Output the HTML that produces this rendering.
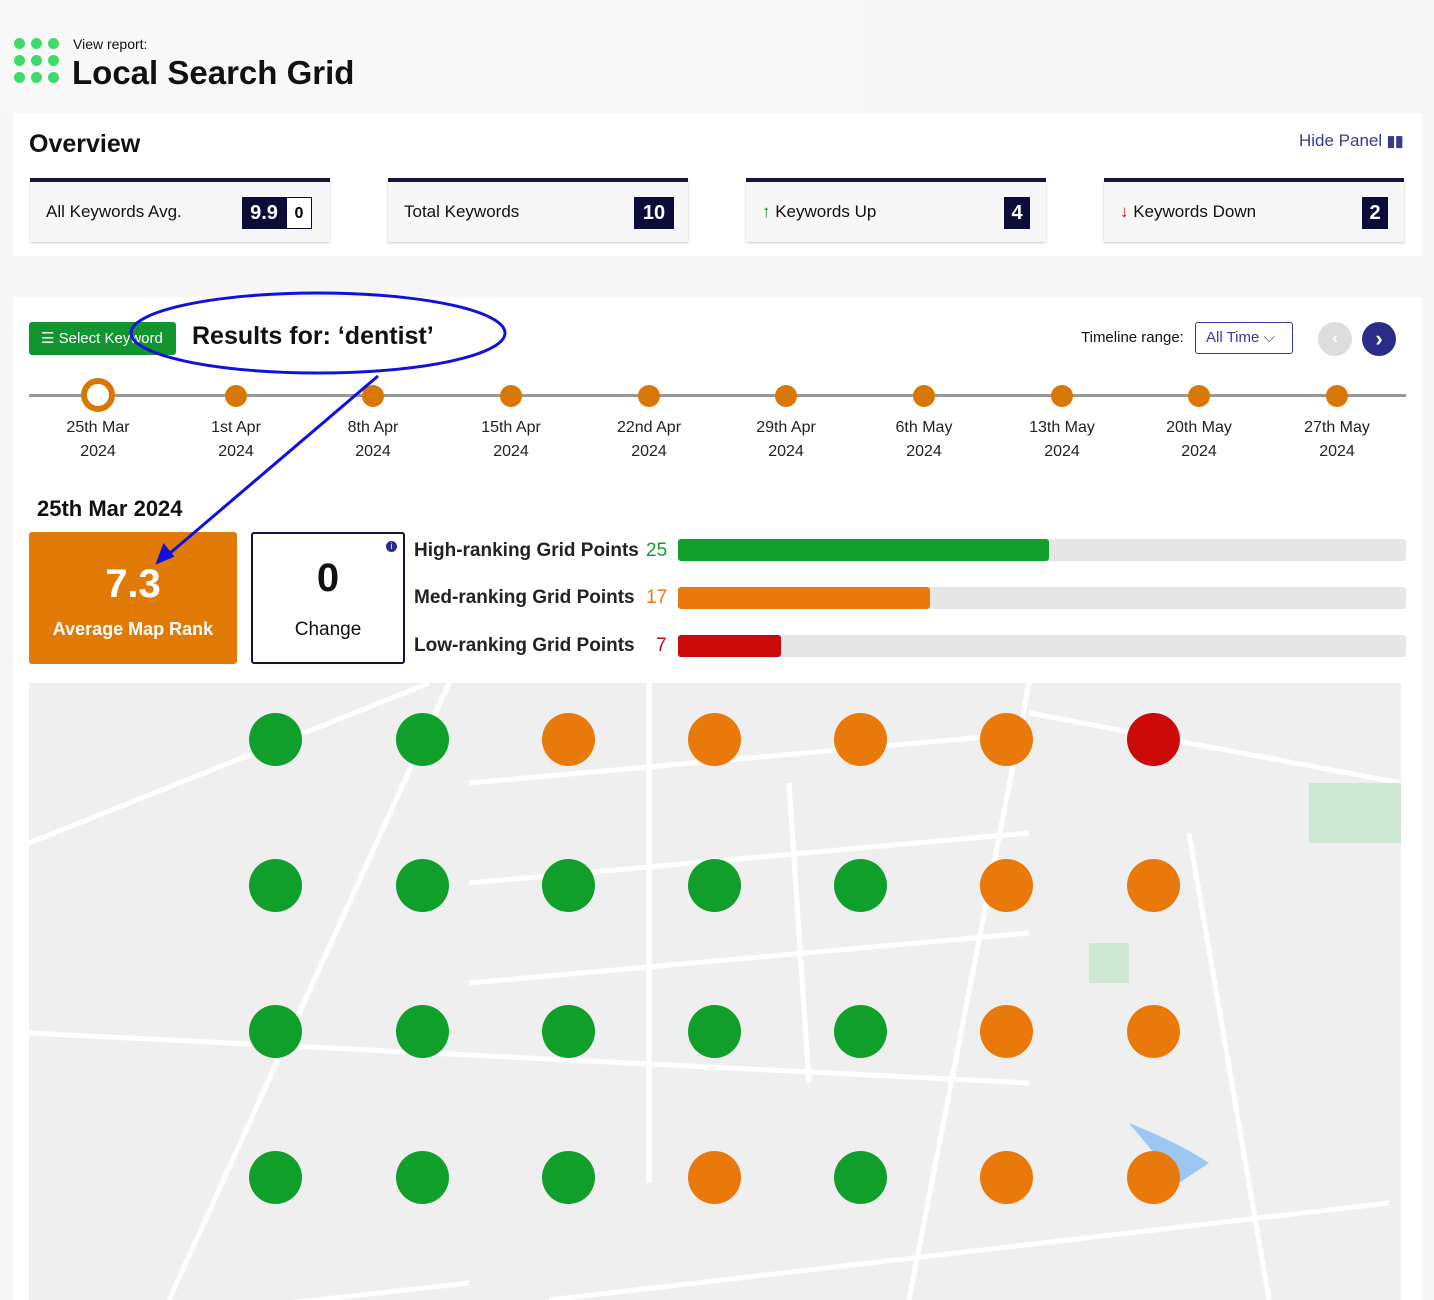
<!DOCTYPE html>
<html><head><style>
body{margin:0;width:1434px;height:1300px;background:#f7f7f7;font-family:"Liberation Sans",sans-serif;position:relative;overflow:hidden;color:#111}
.a{position:absolute}
.dot{position:absolute;width:11px;height:11px;border-radius:50%;background:#3ddc6a}
.card{position:absolute;top:178px;height:60px;width:300px;background:#f7f7f7;border-top:4px solid #14143c;box-shadow:0 1px 2px #ccc;font-size:17px}
.card span.l{position:absolute;left:16px;top:20px;line-height:20px;height:20px}
.badge{position:absolute;top:15px;height:32px;background:#0c0c38;color:#fff;font-weight:bold;font-size:20px;line-height:32px;text-align:center}
.tl{position:absolute;top:416px;width:100px;text-align:center;font-size:16px;line-height:24px;color:#222}
.td{position:absolute;top:385px;width:22px;height:22px;border-radius:50%;background:#d97706}
.g{position:absolute;width:53px;height:53px;border-radius:50%}
.G{background:#0f9f2a}.O{background:#e8790a}.R{background:#cc0a0a}
.bar{position:absolute;left:678px;width:728px;height:22px;background:#e6e6e6;border-radius:3px}
.lab{position:absolute;left:414px;font-size:19px;font-weight:bold;color:#222}
</style></head><body>
<div class="a" style="left:0;top:0;width:860px;height:112px;background:#f8f8f8"></div>
<div class="dot" style="left:14px;top:38px"></div><div class="dot" style="left:31px;top:38px"></div><div class="dot" style="left:48px;top:38px"></div>
<div class="dot" style="left:14px;top:55px"></div><div class="dot" style="left:31px;top:55px"></div><div class="dot" style="left:48px;top:55px"></div>
<div class="dot" style="left:14px;top:72px"></div><div class="dot" style="left:31px;top:72px"></div><div class="dot" style="left:48px;top:72px"></div>
<div class="a" style="left:73px;top:36px;font-size:14px">View report:</div>
<div class="a" style="left:72px;top:54px;font-size:33px;font-weight:bold">Local Search Grid</div>

<div class="a" style="left:13px;top:113px;width:1409px;height:143px;background:#fff"></div>
<div class="a" style="left:29px;top:130px;font-size:25px;font-weight:bold">Overview</div>
<div class="a" style="left:1299px;top:131px;font-size:17px;color:#3a3a8c">Hide Panel <b style="font-size:15px">▮▮</b></div>
<div class="card" style="left:30px"><span class="l">All Keywords Avg.</span><div class="badge" style="left:212px;width:44px">9.9</div><div class="badge" style="left:256px;width:26px;background:#fff;color:#000;border:1px solid #0c0c38;box-sizing:border-box;font-size:16px">0</div></div>
<div class="card" style="left:388px"><span class="l">Total Keywords</span><div class="badge" style="left:246px;width:40px">10</div></div>
<div class="card" style="left:746px"><span class="l"><span style="color:#0a8a2a;font-weight:bold">↑</span> Keywords Up</span><div class="badge" style="left:258px;width:26px">4</div></div>
<div class="card" style="left:1104px"><span class="l"><span style="color:#c00;font-weight:bold">↓</span> Keywords Down</span><div class="badge" style="left:258px;width:26px">2</div></div>

<div class="a" style="left:13px;top:297px;width:1409px;height:1003px;background:#fff"></div>
<div class="a" style="left:29px;top:322px;width:147px;height:33px;background:#12952f;border-radius:3px;color:#fff;font-size:15px;line-height:33px;text-indent:12px">☰ Select Keyword</div>
<div class="a" style="left:192px;top:322px;font-size:25px;font-weight:bold">Results for: ‘dentist’</div>
<div class="a" style="left:1081px;top:329px;font-size:15px">Timeline range:</div>
<div class="a" style="left:1195px;top:322px;width:96px;height:30px;border:1px solid #3a3a9c;border-radius:3px;color:#3a3a9c;font-size:15px;line-height:30px;text-indent:10px">All Time ⌵</div>
<div class="a" style="left:1318px;top:322px;width:34px;height:34px;border-radius:50%;background:#ddd;color:#fff;text-align:center;line-height:34px;font-weight:bold">‹</div>
<div class="a" style="left:1362px;top:322px;width:34px;height:34px;border-radius:50%;background:#2b2b8a;color:#fff;text-align:center;line-height:34px;font-weight:bold;font-size:22px">›</div>

<div class="a" style="left:29px;top:394px;width:1377px;height:3px;background:#999"></div>
<div class="a" style="left:81px;top:378px;width:22px;height:22px;border-radius:50%;border:6px solid #d97706;background:#fff"></div>
<div class="td" style="left:225px"></div><div class="td" style="left:362px"></div><div class="td" style="left:500px"></div><div class="td" style="left:638px"></div><div class="td" style="left:775px"></div><div class="td" style="left:913px"></div><div class="td" style="left:1051px"></div><div class="td" style="left:1188px"></div><div class="td" style="left:1326px"></div>
<div class="tl" style="left:48px">25th Mar<br>2024</div><div class="tl" style="left:186px">1st Apr<br>2024</div><div class="tl" style="left:323px">8th Apr<br>2024</div><div class="tl" style="left:461px">15th Apr<br>2024</div><div class="tl" style="left:599px">22nd Apr<br>2024</div><div class="tl" style="left:736px">29th Apr<br>2024</div><div class="tl" style="left:874px">6th May<br>2024</div><div class="tl" style="left:1012px">13th May<br>2024</div><div class="tl" style="left:1149px">20th May<br>2024</div><div class="tl" style="left:1287px">27th May<br>2024</div>

<div class="a" style="left:37px;top:496px;font-size:22px;font-weight:bold">25th Mar 2024</div>
<div class="a" style="left:29px;top:532px;width:208px;height:132px;background:#e27a08;border-radius:3px;color:#fff;text-align:center">
<div style="font-size:40px;font-weight:bold;margin-top:30px">7.3</div><div style="font-size:18px;font-weight:bold;margin-top:12px">Average Map Rank</div></div>
<div class="a" style="left:251px;top:532px;width:150px;height:128px;border:2px solid #14143c;border-radius:3px;text-align:center">
<div style="font-size:40px;font-weight:bold;margin-top:22px">0</div><div style="font-size:19px;margin-top:18px">Change</div>
<div style="position:absolute;right:6px;top:7px;width:11px;height:11px;border-radius:50%;background:#2b2b8a;color:#fff;font-size:9px;line-height:11px">i</div></div>
<div class="lab" style="top:540px">High-ranking Grid Points <span style="color:#0f9f2a;font-weight:normal;position:absolute;left:232px">25</span></div>
<div class="lab" style="top:587px">Med-ranking Grid Points <span style="color:#e8790a;font-weight:normal;position:absolute;left:232px">17</span></div>
<div class="lab" style="top:635px">Low-ranking Grid Points <span style="color:#cc0a0a;font-weight:normal;position:absolute;left:242px">7</span></div>
<div class="bar" style="top:539px"><div style="width:371px;height:22px;background:#0f9f2a;border-radius:3px"></div></div>
<div class="bar" style="top:587px"><div style="width:252px;height:22px;background:#e8790a;border-radius:3px"></div></div>
<div class="bar" style="top:635px"><div style="width:103px;height:22px;background:#cc0a0a;border-radius:3px"></div></div>

<div class="a" style="left:29px;top:683px;width:1372px;height:617px;background:#efefef;overflow:hidden">
<svg width="1372" height="617" style="position:absolute;left:0;top:0">
<g stroke="#fff" stroke-width="5" fill="none">
<path d="M0 160 L400 0"/><path d="M140 617 L420 0"/><path d="M520 617 L1360 520"/><path d="M880 617 L1000 0"/><path d="M1160 150 L1240 617"/>
<path d="M1000 30 L1372 100"/><path d="M0 350 L1000 400"/><path d="M440 100 L1000 50"/><path d="M440 200 L1000 150"/><path d="M440 300 L1000 250"/>
<path d="M260 620 L440 600"/><path d="M620 0 L620 500"/><path d="M760 100 L780 400"/></g>
<path d="M1100 440 Q1150 460 1180 480 L1150 500 Z" fill="#9cc7f0"/>
<rect x="1280" y="100" width="92" height="60" fill="#cfe8d4"/><rect x="1060" y="260" width="40" height="40" fill="#cfe8d4"/>
</svg>
</div>
<div class="a" style="left:0;top:0;width:1434px;height:1300px">
<div class="g G" style="left:249px;top:713px"></div><div class="g G" style="left:396px;top:713px"></div><div class="g O" style="left:542px;top:713px"></div><div class="g O" style="left:688px;top:713px"></div><div class="g O" style="left:834px;top:713px"></div><div class="g O" style="left:980px;top:713px"></div><div class="g R" style="left:1127px;top:713px"></div>
<div class="g G" style="left:249px;top:859px"></div><div class="g G" style="left:396px;top:859px"></div><div class="g G" style="left:542px;top:859px"></div><div class="g G" style="left:688px;top:859px"></div><div class="g G" style="left:834px;top:859px"></div><div class="g O" style="left:980px;top:859px"></div><div class="g O" style="left:1127px;top:859px"></div>
<div class="g G" style="left:249px;top:1005px"></div><div class="g G" style="left:396px;top:1005px"></div><div class="g G" style="left:542px;top:1005px"></div><div class="g G" style="left:688px;top:1005px"></div><div class="g G" style="left:834px;top:1005px"></div><div class="g O" style="left:980px;top:1005px"></div><div class="g O" style="left:1127px;top:1005px"></div>
<div class="g G" style="left:249px;top:1151px"></div><div class="g G" style="left:396px;top:1151px"></div><div class="g G" style="left:542px;top:1151px"></div><div class="g O" style="left:688px;top:1151px"></div><div class="g G" style="left:834px;top:1151px"></div><div class="g O" style="left:980px;top:1151px"></div><div class="g O" style="left:1127px;top:1151px"></div>
</div>
<svg class="a" style="left:0;top:0" width="1434" height="1300">
<ellipse cx="318" cy="333" rx="187" ry="40" fill="none" stroke="#1010e0" stroke-width="3"/>
<path d="M378 376 L162 560" stroke="#1010e0" stroke-width="3" fill="none"/>
<path d="M158 562 L164 546 L172 556 Z" fill="#1010e0" stroke="#1010e0" stroke-width="3"/>
</svg>
</body></html>
